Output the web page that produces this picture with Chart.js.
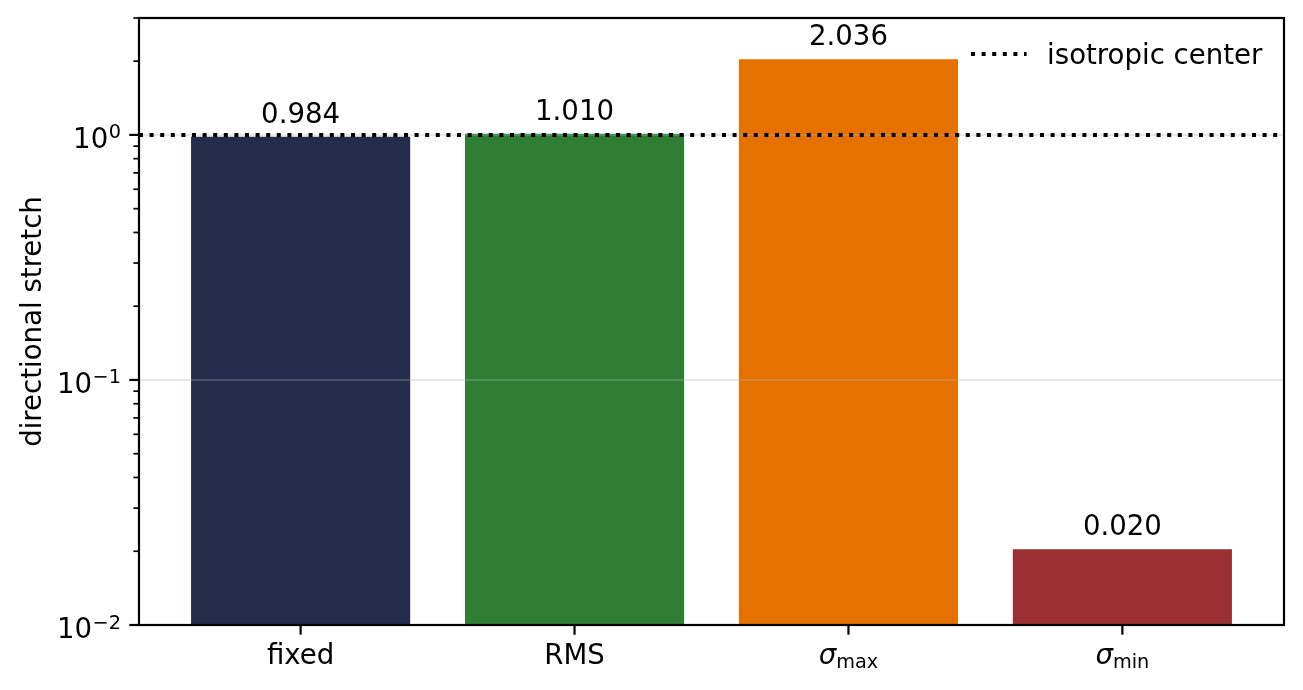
<!DOCTYPE html>
<html>
<head>
<meta charset="utf-8">
<script src="https://cdn.jsdelivr.net/npm/chart.js@4.4.1/dist/chart.umd.min.js"></script>
<style>
  html, body { margin: 0; padding: 0; background: #ffffff; }
  #wrap { width: 1303px; height: 690px; position: relative; }
</style>
</head>
<body>
<div id="wrap"><canvas id="c" width="1303" height="690"></canvas></div>
<script>
// ---- data ----
const categories = ['fixed', 'RMS', 'σ_max', 'σ_min'];
const stretchValues = [0.984, 1.010, 2.036, 0.0204];
const barColors = ['#232D4B', '#2E7D32', '#E57200', '#9C2F33'];
const yTickValues = [0.01, 0.1, 1];
const yTickBases = ['10', '10', '10'];
const yTickExponents = ['−2', '−1', '0'];
const isotropicCenter = [1];
const legendLabels = ['isotropic center'];
const yAxisTitle = ['directional stretch'];

const FONT = "'DejaVu Sans'";
const FS = 27.6;
const FS_SMALL = 19.3;

const overlay = {
  id: 'overlay',
  afterDatasetsDraw(chart) {
    const ctx = chart.ctx;
    const a = chart.chartArea;
    const xs = chart.scales.x, ys = chart.scales.y;
    ctx.save();

    // grid lines at major ticks (on top of bars)
    ctx.strokeStyle = 'rgba(176,176,176,0.3)';
    ctx.lineWidth = 2;
    yTickValues.forEach(v => {
      const y = ys.getPixelForValue(v);
      ctx.beginPath(); ctx.moveTo(a.left, y); ctx.lineTo(a.right, y); ctx.stroke();
    });

    // isotropic center dotted line
    ctx.save();
    ctx.beginPath(); ctx.rect(a.left, a.top, a.right - a.left, a.bottom - a.top); ctx.clip();
    ctx.strokeStyle = '#000000';
    ctx.lineWidth = 4;
    ctx.lineCap = 'butt';
    ctx.setLineDash([4, 6.6]);
    isotropicCenter.forEach(v => {
      const y = ys.getPixelForValue(v);
      ctx.beginPath(); ctx.moveTo(a.left, y); ctx.lineTo(a.right, y); ctx.stroke();
    });
    ctx.restore();

    // value labels
    ctx.fillStyle = '#000000';
    ctx.font = FS + 'px ' + FONT;
    ctx.textAlign = 'center';
    ctx.textBaseline = 'alphabetic';
    const meta = chart.getDatasetMeta(0);
    meta.data.forEach((bar, i) => {
      ctx.fillText(stretchValues[i].toFixed(3), bar.x, bar.y - 14);
    });

    // spines
    ctx.strokeStyle = '#000000';
    ctx.lineWidth = 2.2;
    ctx.setLineDash([]);
    ctx.strokeRect(a.left, a.top, a.right - a.left, a.bottom - a.top);

    // y minor ticks
    ctx.lineWidth = 1.7;
    const ymin = ys.min, ymax = ys.max;
    for (let d = Math.floor(Math.log10(ymin)); d <= Math.ceil(Math.log10(ymax)); d++) {
      for (let k = 2; k <= 9; k++) {
        const v = k * Math.pow(10, d);
        if (v < ymin || v > ymax) continue;
        const y = ys.getPixelForValue(v);
        ctx.beginPath(); ctx.moveTo(a.left - 5.6, y); ctx.lineTo(a.left, y); ctx.stroke();
      }
    }
    // y major ticks + labels
    ctx.lineWidth = 2.2;
    yTickValues.forEach((v, i) => {
      const y = ys.getPixelForValue(v);
      ctx.beginPath(); ctx.moveTo(a.left - 9.7, y); ctx.lineTo(a.left, y); ctx.stroke();
      const right = a.left - 18.5;
      ctx.textAlign = 'left';
      ctx.font = FS_SMALL + 'px ' + FONT;
      const supW = ctx.measureText(yTickExponents[i]).width;
      ctx.font = FS + 'px ' + FONT;
      const baseW = ctx.measureText(yTickBases[i]).width;
      const x0 = right - supW - baseW;
      ctx.fillText(yTickBases[i], x0, y + 13);
      ctx.font = FS_SMALL + 'px ' + FONT;
      ctx.fillText(yTickExponents[i], x0 + baseW + 0.5, y + 3.5);
    });

    // x ticks + labels
    categories.forEach((lab, i) => {
      const x = xs.getPixelForValue(i);
      ctx.beginPath(); ctx.moveTo(x, a.bottom); ctx.lineTo(x, a.bottom + 9.7); ctx.stroke();
      const parts = lab.split('_');
      const baseY = a.bottom + 38.5;
      if (parts.length === 1) {
        ctx.font = FS + 'px ' + FONT;
        ctx.textAlign = 'center';
        ctx.fillText(lab, x, baseY);
      } else {
        ctx.textAlign = 'left';
        ctx.font = 'oblique ' + FS + 'px ' + FONT;
        const w1 = ctx.measureText(parts[0]).width;
        ctx.font = FS_SMALL + 'px ' + FONT;
        const w2 = ctx.measureText(parts[1]).width;
        const start = x - (w1 + w2) / 2;
        ctx.font = 'oblique ' + FS + 'px ' + FONT;
        ctx.fillText(parts[0], start, baseY);
        ctx.font = FS_SMALL + 'px ' + FONT;
        ctx.fillText(parts[1], start + w1, baseY + 4.5);
      }
    });

    // y axis title
    ctx.save();
    ctx.translate(41, (a.top + a.bottom) / 2);
    ctx.rotate(-Math.PI / 2);
    ctx.textAlign = 'center';
    ctx.font = FS + 'px ' + FONT;
    ctx.fillText(yAxisTitle[0], 0, 0);
    ctx.restore();

    // legend (upper right, no frame)
    const lx = a.right - 313, ly = a.top + 36;
    ctx.strokeStyle = '#000000';
    ctx.lineWidth = 4;
    ctx.setLineDash([4, 6.6]);
    ctx.beginPath(); ctx.moveTo(lx, ly); ctx.lineTo(lx + 55.6, ly); ctx.stroke();
    ctx.setLineDash([]);
    ctx.textAlign = 'left';
    ctx.font = FS + 'px ' + FONT;
    ctx.fillText(legendLabels[0], lx + 55.6 + 20.5, ly + 9.5);

    ctx.restore();
  }
};

new Chart(document.getElementById('c'), {
  type: 'bar',
  data: {
    datasets: [{
      data: stretchValues.map((v, i) => ({ x: i, y: v })),
      backgroundColor: barColors,
      borderWidth: 0,
      categoryPercentage: 0.8,
      barPercentage: 1.0
    }]
  },
  options: {
    responsive: false,
    devicePixelRatio: 1,
    animation: false,
    layout: { padding: { left: 139, top: 18, right: 19, bottom: 65 } },
    plugins: { legend: { display: false }, tooltip: { enabled: false } },
    scales: {
      x: {
        type: 'linear', min: -0.59, max: 3.59, display: false, offset: false,
        afterBuildTicks: (scale) => { scale.ticks = categories.map((_, i) => ({ value: i })); }
      },
      y: { type: 'logarithmic', min: 0.01, max: 3.0, display: false }
    }
  },
  plugins: [overlay]
});
</script>
</body>
</html>
